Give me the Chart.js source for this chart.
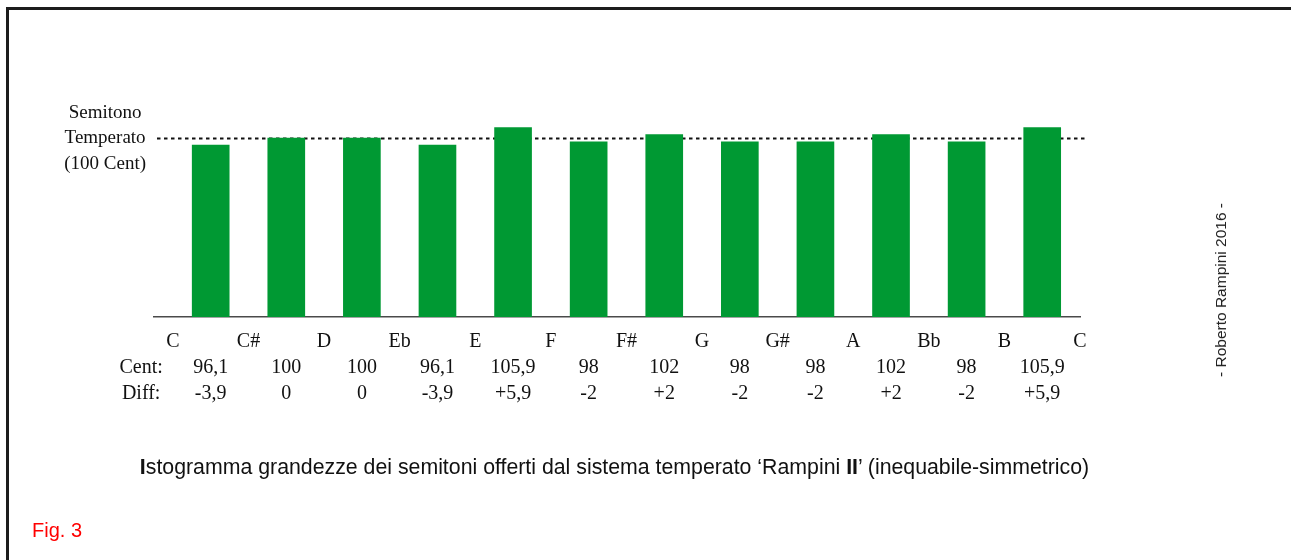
<!DOCTYPE html>
<html>
<head>
<meta charset="utf-8">
<script src="https://cdn.jsdelivr.net/npm/chart.js@4/dist/chart.umd.min.js"></script>
<style>
  html, body { margin: 0; padding: 0; background: #fff; }
  #wrap { position: relative; width: 1291px; height: 560px; overflow: hidden; }
  #frame { position: absolute; left: 6px; top: 7px; width: 1300px; height: 600px;
           border-top: 3px solid #1c1c1c; border-left: 3px solid #1c1c1c; }
  #myChart { position: absolute; left: 0; top: 0; }
  #caption { position: absolute; left: 0; width: 1229px; top: 455px; text-align: center; white-space: nowrap;
             font-family: "Liberation Sans", Arial, sans-serif; font-size: 21.3px; color: #111; }
  #fig { position: absolute; left: 32px; top: 519px; font-family: "Liberation Sans", Arial, sans-serif;
         font-size: 20px; color: #f00; }
  #firma { position: absolute; left: 1221px; top: 290px; transform: translate(-50%, -50%) rotate(-90deg);
           white-space: nowrap; font-family: "Liberation Sans", Arial, sans-serif; font-size: 15.5px; color: #222; }
</style>
</head>
<body>
<div id="wrap">
  <div id="frame"></div>
  <canvas id="myChart" width="1291" height="560"></canvas>
  <div id="caption"><b>I</b>stogramma grandezze dei semitoni offerti dal sistema temperato ‘Rampini <b>II</b>’ (inequabile-simmetrico)</div>
  <div id="fig">Fig. 3</div>
  <div id="firma">- Roberto Rampini 2016 -</div>
</div>
<script>
window.addEventListener('load',()=>{

let notes = ['C','C#','D','Eb','E','F','F#','G','G#','A','Bb','B','C'];
let cents = [96.1, 100, 100, 96.1, 105.9, 98, 102, 98, 98, 102, 98, 105.9];
let diffs = ['-3,9','0','0','-3,9','+5,9','-2','+2','-2','-2','+2','-2','+5,9'];
let refCent = 100;
let refLabel = ['Semitono','Temperato','(100 Cent)'];
let rowLabels = ['', 'Cent:', 'Diff:'];

let barData = cents.map((c, i) => ({x: i + 0.5, y: c}));

// tick positions: note names on the boundaries, values under the bars
let tickPos = [-0.42];
for (let i = 0; i <= 12; i++) {
    tickPos.push(i);
    if (i < 12) tickPos.push(i + 0.5);
}

const dashedRef = {
    id: 'dashedRef',
    beforeDatasetsDraw(chart) {
        const ctx = chart.ctx;
        const area = chart.chartArea;
        const y = Math.round(chart.scales.y.getPixelForValue(refCent)) + 0.5;
        ctx.save();
        ctx.strokeStyle = '#111';
        ctx.lineWidth = 2;
        ctx.setLineDash([3.5, 3.5]);
        ctx.beginPath();
        ctx.moveTo(area.left + 3, y);
        ctx.lineTo(area.right + 6, y);
        ctx.stroke();
        ctx.restore();
    }
};

const myChart = new Chart(document.getElementById('myChart'), {
    type: 'bar',
    data: {
        datasets: [{
            data: barData,
            backgroundColor: '#009933',
            borderWidth: 0,
            barThickness: 37
        }]
    },
    options: {
        responsive: false,
        animation: false,
        layout: { padding: { left: 56, right: 211, top: 47, bottom: 0 } },
        plugins: { legend: { display: false }, tooltip: { enabled: false } },
        scales: {
            x: {
                type: 'linear',
                min: -0.25,
                max: 12,
                offset: false,
                grid: { display: false, drawTicks: false },
                border: { display: true, color: '#4a4a4a', width: 1.5 },
                afterBuildTicks: (axis) => { axis.ticks = tickPos.map(v => ({value: v})); },
                afterFit: (axis) => { axis.height = 243; },
                ticks: {
                    autoSkip: false,
                    maxRotation: 0,
                    padding: 12,
                    color: '#111',
                    font: { family: '"Liberation Serif", "Times New Roman", serif', size: 20, lineHeight: 1.3 },
                    callback: (value) => {
                        if (value < 0) return rowLabels;
                        if (Number.isInteger(value)) return notes[value];
                        let i = Math.floor(value);
                        return ['', String(cents[i]).replace('.', ','), diffs[i]];
                    }
                }
            },
            y: {
                min: 0,
                max: 151,
                grid: { display: false, drawTicks: false },
                border: { display: false },
                afterBuildTicks: (axis) => { axis.ticks = [{value: refCent}]; },
                afterFit: (axis) => { axis.width = 98; },
                ticks: {
                    crossAlign: 'center',
                    padding: 8,
                    color: '#111',
                    font: { family: '"Liberation Serif", "Times New Roman", serif', size: 19, lineHeight: 1.35 },
                    callback: () => refLabel
                }
            }
        }
    },
    plugins: [dashedRef]
});

})
</script>
</body>
</html>
